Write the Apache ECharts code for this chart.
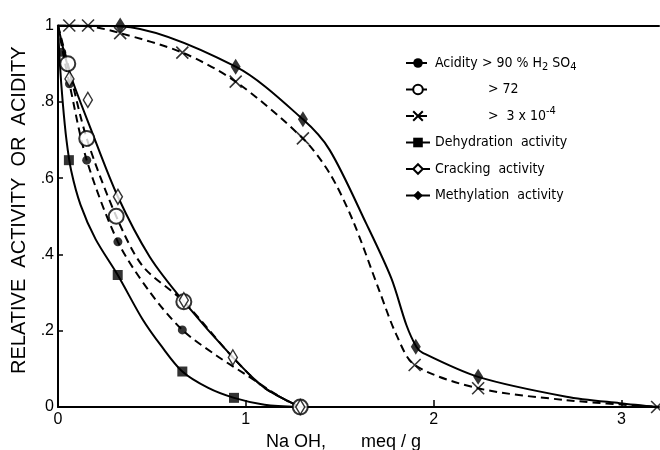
<!DOCTYPE html>
<html><head><meta charset="utf-8">
<script src="https://cdn.jsdelivr.net/npm/echarts@6/dist/echarts.min.js"></script>
<style>html,body{margin:0;padding:0;background:#fff}#c{width:660px;height:450px}</style>
</head><body><div id="c"></div>
<script>
// ---- data ----
const xTicks = [0, 1, 2, 3];
const yTicks = [0, 0.2, 0.4, 0.6, 0.8, 1];
const yTickLabels = ['0', '.2', '.4', '.6', '.8', '1'];

// curves
const curveAcid90 = [[0,1],[0.03,0.92],[0.061,0.847],[0.153,0.647],[0.319,0.433],[0.488,0.302],[0.662,0.202],[0.843,0.135],[1.0,0.085],[1.171,0.03],[1.28,0]];
const curveAcid72 = [[0,1],[0.052,0.9],[0.153,0.704],[0.31,0.5],[0.45,0.37],[0.67,0.276],[0.931,0.13],[1.1,0.05],[1.29,0]];
const curveAcid3 = [[0,1],[0.16,0.998],[0.331,0.98],[0.662,0.929],[0.946,0.853],[1.304,0.704],[1.446,0.613],[1.569,0.49],[1.713,0.302],[1.802,0.189],[1.899,0.11],[2.237,0.049],[2.707,0.018],[3.2,0]];
const curveDehyd = [[0,1],[0.01,0.9],[0.025,0.8],[0.045,0.7],[0.07,0.62],[0.12,0.53],[0.2,0.44],[0.318,0.346],[0.45,0.23],[0.55,0.16],[0.662,0.093],[0.8,0.05],[0.937,0.024],[1.1,0.006],[1.28,0]];
const curveCrack = [[0,1],[0.06,0.88],[0.177,0.726],[0.319,0.551],[0.488,0.394],[0.67,0.276],[0.931,0.13],[1.1,0.05],[1.29,0]];
const curveMeth = [[0,1],[0.331,0.998],[0.946,0.892],[1.304,0.754],[1.446,0.674],[1.642,0.48],[1.775,0.337],[1.855,0.215],[1.908,0.158],[1.942,0.142],[2.237,0.079],[2.707,0.027],[2.99,0.01],[3.2,0]];

// measured points
const ptsAcid90 = [[0.02,0.93],[0.061,0.847],[0.153,0.647],[0.319,0.433],[0.662,0.202]];
const ptsAcid72 = [[0.052,0.9],[0.153,0.704],[0.31,0.5],[0.67,0.276],[1.29,0]];
const ptsAcid3 = [[0.06,1.0],[0.16,1.0],[0.331,0.98],[0.662,0.929],[0.946,0.853],[1.304,0.704],[1.899,0.11],[2.237,0.049],[3.19,0]];
const ptsDehyd = [[0.058,0.647],[0.318,0.346],[0.662,0.093],[0.937,0.024]];
const ptsCrack = [[0.061,0.86],[0.159,0.805],[0.319,0.551],[0.67,0.28],[0.931,0.13],[1.29,0]];
const ptsMeth = [[0.06,1.015],[0.331,1.0],[0.946,0.892],[1.304,0.754],[1.905,0.158],[2.237,0.079]];

const legendText = {
  acid90: '{w1|Acidity}> 90 % H{s|2} SO{s|4}',
  acid72: '{w2| }> 72',
  acid3: '{w2| }>  3 x 10{p|-4}',
  dehyd: 'Dehydration  activity',
  crack: 'Cracking  activity',
  meth: 'Methylation  activity'
};

const crossPath = 'path://M0,0L10,10M10,0L0,10';
const K = '#000';
const styles = {
  acid90: {symbol:'circle', size:9, item:{color:K}, dashed:true},
  acid72: {symbol:'circle', size:15, item:{color:'#fff', borderColor:K, borderWidth:2}, dashed:true},
  acid3: {symbol:crossPath, size:12, item:{color:'rgba(0,0,0,0)', borderColor:K, borderWidth:1.6}, dashed:true},
  dehyd: {symbol:'rect', size:10, item:{color:K}, dashed:false},
  crack: {symbol:'diamond', size:[9,15], item:{color:'#fff', borderColor:K, borderWidth:1.5}, dashed:false},
  meth: {symbol:'diamond', size:[10,16], item:{color:K}, dashed:false}
};
const curves = {acid90:curveAcid90, acid72:curveAcid72, acid3:curveAcid3, dehyd:curveDehyd, crack:curveCrack, meth:curveMeth};
const points = {acid90:ptsAcid90, acid72:ptsAcid72, acid3:ptsAcid3, dehyd:ptsDehyd, crack:ptsCrack, meth:ptsMeth};
const names = ['acid90','acid72','acid3','dehyd','crack','meth'];

const series = [];
names.forEach(n => {
  const s = styles[n];
  series.push({
    name: n, type: 'line', smooth: 0.3,
    data: curves[n], showSymbol: false, symbol: s.symbol, symbolSize: s.size,
    itemStyle: s.item,
    lineStyle: {color: K, width: 2, type: s.dashed ? [8, 5] : 'solid'},
    z: 2, silent: true
  });
});
names.forEach(n => {
  const s = styles[n];
  series.push({
    name: n + '_pts', type: 'scatter', data: points[n], symbol: s.symbol, symbolSize: s.size,
    itemStyle: s.item, z: 5, silent: true
  });
});

const FN = "'Liberation Sans Narrow','DejaVu Sans Condensed',sans-serif";
const chart = echarts.init(document.getElementById('c'));
chart.setOption({
  animation: false,
  backgroundColor: '#fff',
  grid: {left: 58, top: 25.5, width: 601, height: 381.5, containLabel: false, outerBoundsMode: 'none'},
  xAxis: [{
    type: 'value', min: 0, max: 3.2,
    axisLine: {show: true, lineStyle: {color: K, width: 2}},
    axisTick: {show: true, inside: true, length: 7, lineStyle: {color: K, width: 1.5}, customValues: xTicks.slice(1)},
    axisLabel: {customValues: xTicks, margin: 5, color: K, fontSize: 16, fontFamily: 'Liberation Sans', formatter: v => String(v)},
    splitLine: {show: false},
    name: 'Na OH,       meq / g', nameLocation: 'middle', nameGap: 23,
    nameTextStyle: {color: K, fontSize: 18, fontFamily: 'Liberation Sans', padding: [0, 30, 0, 0]}
  }, {
    type: 'value', min: 0, max: 3.2, position: 'top',
    axisLine: {show: true, lineStyle: {color: K, width: 2}},
    axisTick: {show: false}, axisLabel: {show: false}, splitLine: {show: false}
  }],
  yAxis: {
    type: 'value', min: 0, max: 1, interval: 0.2,
    axisLine: {show: true, lineStyle: {color: K, width: 2}},
    axisTick: {show: true, inside: true, length: 5, lineStyle: {color: K, width: 1.5}},
    axisLabel: {margin: 4, color: K, fontSize: 16, fontFamily: 'Liberation Sans',
      formatter: v => { const i = yTicks.findIndex(t => Math.abs(t - v) < 1e-6); return i >= 0 ? yTickLabels[i] : ''; }},
    splitLine: {show: false},
    name: 'RELATIVE  ACTIVITY  OR  ACIDITY', nameLocation: 'middle', nameGap: 29, nameRotate: 90,
    nameTextStyle: {color: K, fontSize: 20, fontFamily: 'Liberation Sans', padding: [0, 0, 0, 12]}
  },
  legend: {
    data: names, orient: 'vertical', left: 400, top: 48,
    itemWidth: 24, itemHeight: 12, itemGap: 6.5, selectedMode: false,
    formatter: n => legendText[n],
    textStyle: {color: K, fontSize: 14, fontFamily: FN, lineHeight: 20,
      rich: {
        w1: {width: 47, fontSize: 14, fontFamily: FN, lineHeight: 20},
        w2: {width: 53, fontSize: 14, fontFamily: FN, lineHeight: 20},
        s: {fontSize: 11, verticalAlign: 'bottom', lineHeight: 12, fontFamily: FN},
        p: {fontSize: 11, verticalAlign: 'top', lineHeight: 12, fontFamily: FN}
      }}
  },
  series: series
});
</script>
</body></html>
